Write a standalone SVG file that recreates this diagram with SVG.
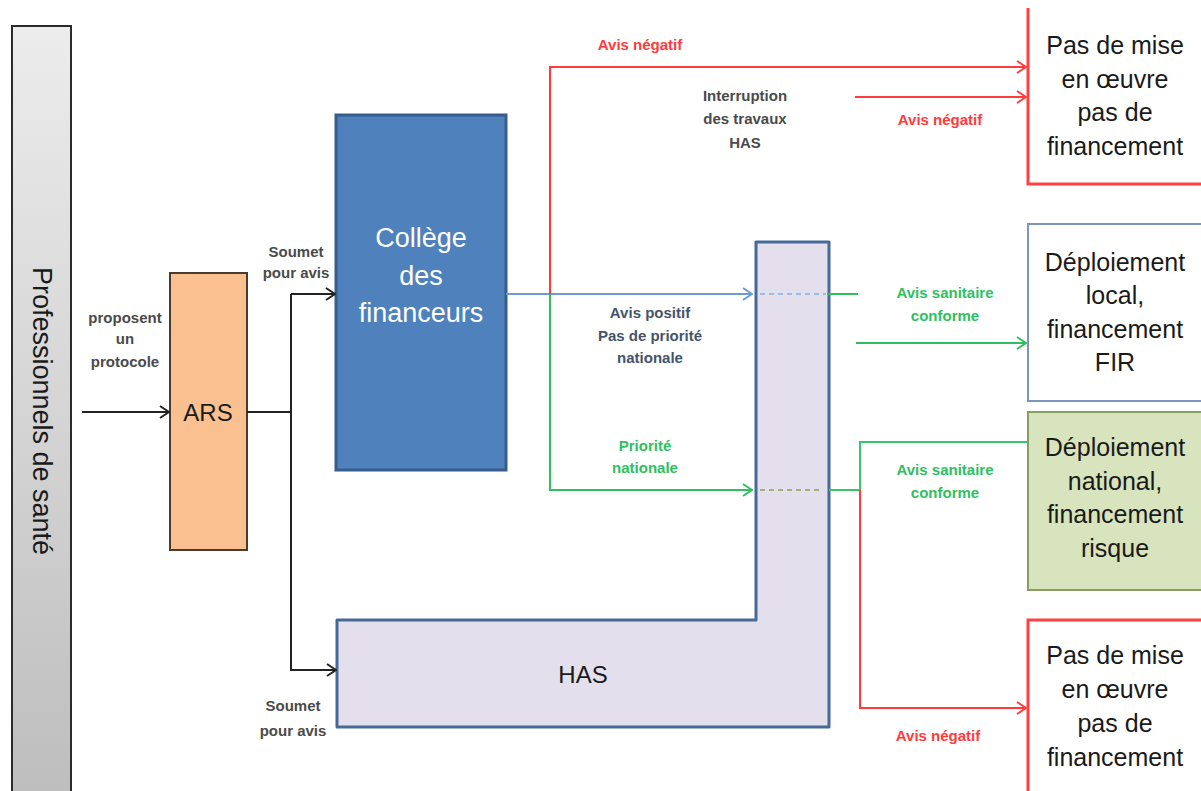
<svg xmlns="http://www.w3.org/2000/svg" width="1201" height="791" viewBox="0 0 1201 791">
<style>
.lbl{font-family:"Liberation Sans",Arial,sans-serif;font-size:15px;font-weight:bold;text-anchor:middle}
.grey{fill:#4a4a4a}
.red{fill:#ff3b3b}
.green{fill:#2fbf5f}
.blue{fill:#44546a}
.big{font-family:"Liberation Sans",Arial,sans-serif;font-size:24px;text-anchor:middle;fill:#1a1a1a}
.ln{fill:none;stroke-width:2}
</style>
<defs>
<linearGradient id="gPro" x1="0" y1="0" x2="0" y2="1">
<stop offset="0" stop-color="#ececec"/>
<stop offset="1" stop-color="#bdbdbd"/>
</linearGradient>
<marker id="aK" markerUnits="userSpaceOnUse" markerWidth="14" markerHeight="14" refX="13" refY="7" orient="auto"><path d="M4,1 L13,7 L4,13" fill="none" stroke="#222" stroke-width="2"/></marker>
<marker id="aB" markerUnits="userSpaceOnUse" markerWidth="14" markerHeight="14" refX="13" refY="7" orient="auto"><path d="M4,1 L13,7 L4,13" fill="none" stroke="#6f9bd2" stroke-width="2"/></marker>
<marker id="aG" markerUnits="userSpaceOnUse" markerWidth="14" markerHeight="14" refX="13" refY="7" orient="auto"><path d="M4,1 L13,7 L4,13" fill="none" stroke="#2fbf5f" stroke-width="2"/></marker>
<marker id="aR" markerUnits="userSpaceOnUse" markerWidth="14" markerHeight="14" refX="13" refY="7" orient="auto"><path d="M4,1 L13,7 L4,13" fill="none" stroke="#ff3b3b" stroke-width="2"/></marker>
</defs>
<rect width="1201" height="791" fill="#ffffff"/>

<g id="professionnels">
<rect x="12" y="26" width="59" height="780" fill="url(#gPro)" stroke="#2b2b2b" stroke-width="2"/>
<text transform="translate(33,411) rotate(90)" font-family="Liberation Sans,Arial,sans-serif" font-size="27" text-anchor="middle" fill="#1a1a1a">Professionnels de santé</text>
</g>

<g id="ars">
<rect x="170" y="273" width="77" height="277" fill="#fac090" stroke="#4a3b2c" stroke-width="2"/>
<text x="208" y="421" class="big">ARS</text>
</g>

<g id="college">
<rect x="336" y="115" width="170" height="355" fill="#4f81bd" stroke="#385d8a" stroke-width="3"/>
<text class="big" style="fill:#ffffff;font-size:27px"><tspan x="421" y="247">Collège</tspan><tspan x="421" y="285">des</tspan><tspan x="421" y="322">financeurs</tspan></text>
</g>

<g id="has">
<path d="M756,242 H829 V727 H337 V620 H756 Z" fill="#e4dfec" stroke="#46699a" stroke-width="3" stroke-linejoin="round"/>
<text x="583" y="683" class="big">HAS</text>
</g>

<g id="refus1">
<path d="M1028,8 V184 H1205 V8 Z" fill="#ffffff" stroke="none"/>
<path d="M1028,8 V184 H1205" fill="none" stroke="#ff4040" stroke-width="3"/>
<text class="big" style="font-size:25px"><tspan x="1115" y="54">Pas de mise</tspan><tspan x="1115" y="88">en œuvre</tspan><tspan x="1115" y="121">pas de</tspan><tspan x="1115" y="155">financement</tspan></text>
</g>

<g id="local">
<rect x="1028" y="224" width="190" height="177" fill="#ffffff" stroke="#7b95bd" stroke-width="2"/>
<text class="big" style="font-size:25px"><tspan x="1115" y="271">Déploiement</tspan><tspan x="1115" y="304">local,</tspan><tspan x="1115" y="338">financement</tspan><tspan x="1115" y="371">FIR</tspan></text>
</g>

<g id="national">
<rect x="1028" y="412" width="190" height="178" fill="#d7e4bd" stroke="#8a9d62" stroke-width="2"/>
<text class="big" style="font-size:25px"><tspan x="1115" y="456">Déploiement</tspan><tspan x="1115" y="490">national,</tspan><tspan x="1115" y="523">financement</tspan><tspan x="1115" y="557">risque</tspan></text>
</g>

<g id="refus2">
<path d="M1028,620 H1205 V800 H1028 Z" fill="#ffffff" stroke="none"/>
<path d="M1205,620 H1028 V800" fill="none" stroke="#ff4040" stroke-width="3"/>
<text class="big" style="font-size:25px"><tspan x="1115" y="664">Pas de mise</tspan><tspan x="1115" y="698">en œuvre</tspan><tspan x="1115" y="732">pas de</tspan><tspan x="1115" y="766">financement</tspan></text>
</g>

<g id="connectors">
<path class="ln" d="M82,412 H169" stroke="#222" marker-end="url(#aK)"/>
<path class="ln" d="M247,412 H291"  stroke="#222"/>
<path class="ln" d="M291,294 V670 H336" stroke="#222" marker-end="url(#aK)"/>
<path class="ln" d="M291,294 H335" stroke="#222" marker-end="url(#aK)"/>
<path class="ln" d="M506,294 H752" stroke="#6f9bd2" marker-end="url(#aB)"/>
<path class="ln" d="M760,294 H826" stroke="#9fbbe3" stroke-dasharray="5,4"/>
<path class="ln" d="M827,294 H858" stroke="#2fbf5f"/>
<path class="ln" d="M856,343 H1026" stroke="#2fbf5f" marker-end="url(#aG)"/>
<path class="ln" d="M550,294 V67 H1026" stroke="#ff3b3b" marker-end="url(#aR)"/>
<path class="ln" d="M855,97 H1026" stroke="#ff3b3b" marker-end="url(#aR)"/>
<path class="ln" d="M550,294 V490 H752" stroke="#2fbf5f" marker-end="url(#aG)"/>
<path class="ln" d="M760,490 H822" stroke="#a3b07a" stroke-dasharray="5,4"/>
<path class="ln" d="M829,490 H860 V442 H1028" stroke="#3cc46a"/>
<path class="ln" d="M860,490 V708 H1026" stroke="#ff3b3b" marker-end="url(#aR)"/>
</g>

<g id="labels">
<text class="lbl grey"><tspan x="125" y="323">proposent</tspan><tspan x="125" y="344">un</tspan><tspan x="125" y="367">protocole</tspan></text>
<text class="lbl grey"><tspan x="296" y="257">Soumet</tspan><tspan x="296" y="278">pour avis</tspan></text>
<text class="lbl grey"><tspan x="293" y="711">Soumet</tspan><tspan x="293" y="736">pour avis</tspan></text>
<text class="lbl red" x="640" y="50">Avis négatif</text>
<text class="lbl grey"><tspan x="745" y="101">Interruption</tspan><tspan x="745" y="124">des travaux</tspan><tspan x="745" y="148">HAS</tspan></text>
<text class="lbl red" x="940" y="125">Avis négatif</text>
<text class="lbl blue"><tspan x="650" y="318">Avis positif</tspan><tspan x="650" y="341">Pas de priorité</tspan><tspan x="650" y="363">nationale</tspan></text>
<text class="lbl green"><tspan x="945" y="298">Avis sanitaire</tspan><tspan x="945" y="321">conforme</tspan></text>
<text class="lbl green"><tspan x="645" y="451">Priorité</tspan><tspan x="645" y="473">nationale</tspan></text>
<text class="lbl green"><tspan x="945" y="475">Avis sanitaire</tspan><tspan x="945" y="498">conforme</tspan></text>
<text class="lbl red" x="938" y="741">Avis négatif</text>
</g>
</svg>
